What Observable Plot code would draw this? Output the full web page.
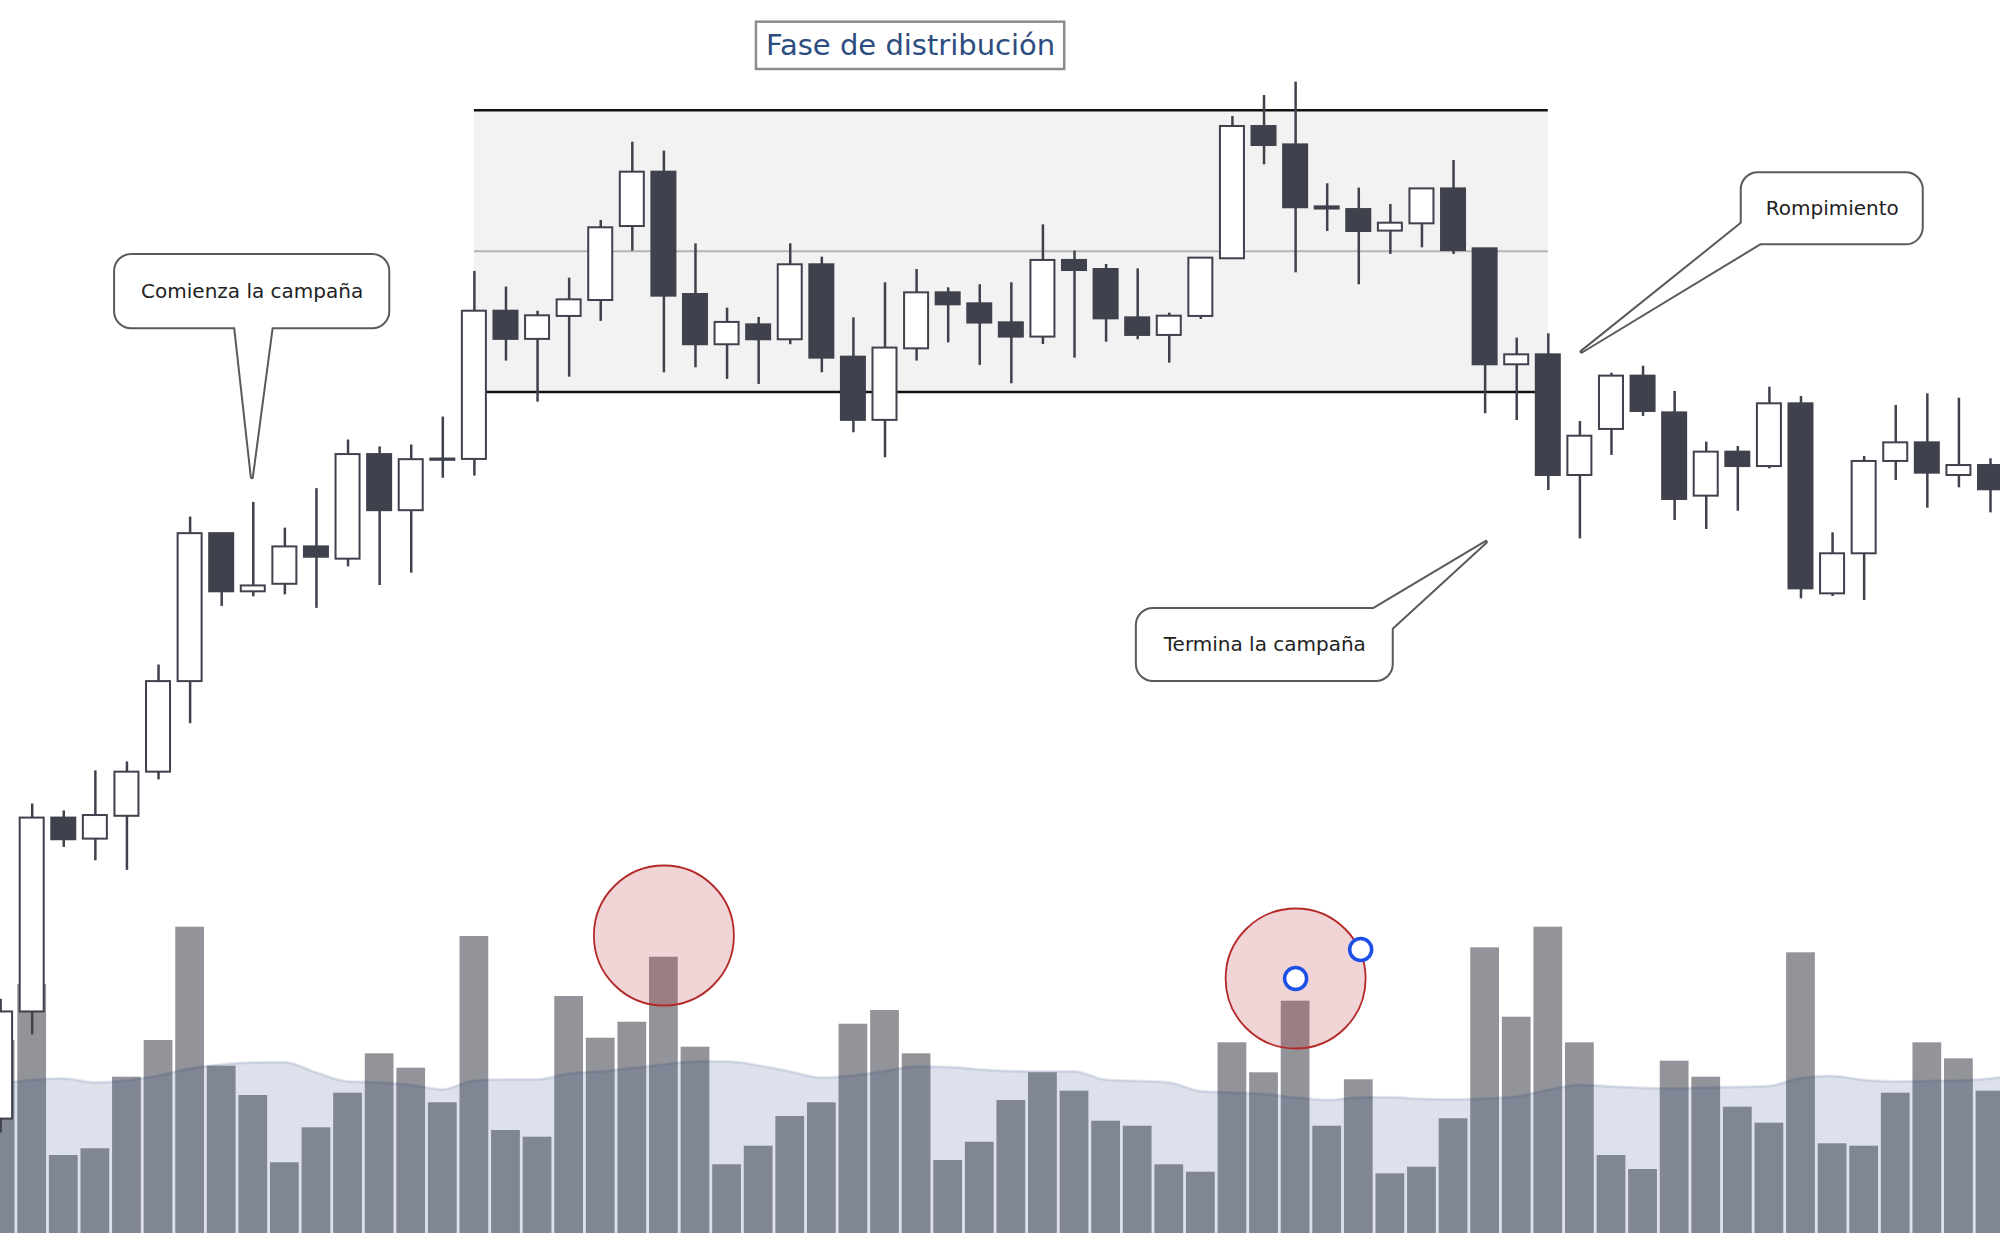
<!DOCTYPE html>
<html>
<head>
<meta charset="utf-8">
<script src="https://cdn.jsdelivr.net/npm/d3@7"></script>
<script src="https://cdn.jsdelivr.net/npm/@observablehq/plot@0.6"></script>
<style>
  html, body { margin: 0; padding: 0; background: #ffffff; }
  #chart { position: relative; width: 2000px; height: 1233px; overflow: hidden; background: #ffffff; }
  #chart > svg { position: absolute; left: 0; top: 0; }
</style>
</head>
<body>
<div id="chart"></div>
<script>
// ---------- data ----------
const opens  = [12.30,20.70,35.90,34.25,36.04,39.50,46.60,58.20,53.64,54.23,57.16,56.20,64.40,60.00,63.95,64.02,75.64,73.43,75.23,76.48,82.28,86.54,76.95,73.01,74.57,73.40,79.28,72.04,67.08,72.69,77.08,76.22,74.73,73.61,79.62,78.91,75.12,73.74,75.23,79.75,90.12,88.68,83.82,83.61,81.92,82.49,85.23,80.53,71.44,72.22,62.76,66.37,70.55,67.67,61.14,64.59,63.46,68.38,53.48,56.62,63.86,65.32,62.76,63.54];
const highs  = [21.70,37.00,36.46,39.60,40.30,47.90,59.50,58.20,60.65,58.63,61.73,65.54,65.00,65.15,67.34,78.76,77.53,75.64,78.23,82.75,88.89,88.19,80.92,75.88,75.15,80.92,79.88,75.12,77.87,78.91,77.47,77.71,77.87,82.41,80.35,79.30,78.96,75.49,79.80,90.91,92.55,93.60,85.63,85.29,84.01,85.23,87.46,80.53,73.53,73.87,66.99,70.78,71.33,69.35,65.37,65.03,69.68,68.95,58.26,64.25,68.25,69.16,68.82,64.07];
const lows   = [11.20,18.90,33.60,32.55,31.80,38.90,43.30,52.50,53.25,53.40,52.34,55.60,54.13,55.10,62.54,62.71,71.73,68.51,70.47,74.84,80.35,70.81,71.20,70.29,69.90,73.01,70.81,66.11,64.15,71.73,73.16,71.39,69.95,73.03,71.96,73.21,73.40,71.57,74.99,79.75,87.12,78.65,81.89,77.71,80.09,80.61,80.09,67.60,67.07,61.58,57.79,64.33,67.39,59.23,58.53,59.96,63.28,53.09,53.27,52.96,62.37,60.20,61.79,59.83];
const closes = [20.70,35.90,34.20,36.10,39.50,46.60,58.20,53.64,54.10,57.16,56.35,64.40,60.00,64.00,64.05,75.64,73.43,75.28,76.53,82.18,86.54,76.82,73.01,74.76,73.40,79.28,71.96,67.08,72.75,77.08,76.14,74.71,73.61,79.62,78.83,75.04,73.74,75.25,79.80,90.12,88.63,83.75,83.65,81.89,82.54,85.23,80.40,71.44,72.22,62.76,65.84,70.55,67.78,60.88,64.59,63.46,68.38,53.87,56.62,63.86,65.32,62.94,63.54,61.64];
const volumes = [1930,2490,780,847,1563,1930,3063,1673,1380,707,1057,1403,1797,1653,1307,2970,1030,963,2370,1953,2113,2763,1863,687,873,1170,1307,2093,2230,1797,730,913,1330,1607,1423,1123,1073,687,613,1907,1607,2323,1073,1537,597,663,1147,2857,2163,3063,1907,780,640,1723,1563,1263,1103,2807,897,873,1403,1907,1747,1423];
// moving average of volume (last value is the next, off-picture bar, read at the right edge)
const volumeAvg = [1500,1535,1550,1510,1530,1580,1650,1690,1710,1713,1610,1520,1510,1485,1440,1530,1540,1540,1600,1620,1655,1690,1720,1720,1680,1620,1557,1580,1625,1670,1665,1640,1623,1620,1620,1537,1525,1510,1423,1410,1395,1360,1335,1360,1363,1345,1340,1350,1370,1435,1485,1470,1455,1450,1460,1465,1475,1555,1575,1535,1520,1525,1530,1550,1600];

// distribution range (candle index span, price bounds)
const rangeIndex = [15, 49];
const rangePrice = [69.3, 91.4];

// highlighted volume spikes (candle index, volume level) and edit handles
const spikeIndex = [21, 41];
const spikeLevel = [2980, 2550];
const handleIndex = [41, 43.06];
const handleLevel = [2550, 2840];

// title box
const titleText = "Fase de distribución";
const titleBoxIndex = [23.93, 33.69];
const titleBoxPrice = [94.59, 98.30];

// callouts
const calloutLabels = ["Comienza la campaña", "Termina la campaña", "Rompimiento"];
const calloutBoxX1 = [3.64, 35.99, 55.14];
const calloutBoxX2 = [12.29, 44.06, 60.84];
const calloutBoxTop = [80.01, 52.25, 86.41];
const calloutBoxBottom = [74.34, 46.69, 80.92];
const calloutBaseA = [[7.44, 74.34], [43.48, 52.25], [55.14, 82.49]];
const calloutBaseB = [[8.60, 74.34], [44.06, 50.74], [55.72, 80.92]];
const calloutTip = [[7.97, 62.58], [47.04, 57.51], [50.07, 72.43]];

// ---------- derived tables ----------
const candles = opens.map((o, i) => ({i, open: o, high: highs[i], low: lows[i], close: closes[i]}));
const upCandles = candles.filter(d => d.close >= d.open);
const downCandles = candles.filter(d => d.close < d.open);
const vol = volumes.map((v, i) => ({i, v}));
const avg = volumeAvg.map((v, i) => ({i, v}));
const spikes = spikeIndex.map((i, k) => ({i, v: spikeLevel[k]}));
const handles = handleIndex.map((i, k) => ({i, v: handleLevel[k]}));
const callouts = calloutLabels.map((label, k) => ({
  label,
  cx: (calloutBoxX1[k] + calloutBoxX2[k]) / 2,
  cy: (calloutBoxTop[k] + calloutBoxBottom[k]) / 2
}));

const W = 2000, H = 1233;
const dark = "#3f414c";
const xOpts = {type: "linear", domain: [0, 63], range: [0.1, 1990], axis: null};
const font = "DejaVu Sans";

// ---------- volume layer ----------
const volumePlot = Plot.plot({
  width: W, height: H, margin: 0,
  x: xOpts,
  y: {domain: [0, 12330], range: [H, 0], axis: null},
  marks: [
    Plot.rect(vol, {x1: d => d.i - 0.455, x2: d => d.i + 0.455, y1: () => 0, y2: "v", fill: "#939499"}),
    Plot.areaY(avg, {x: "i", y1: () => 0, y2: "v", fill: "rgb(30,55,120)", fillOpacity: 0.15, curve: "monotone-x"}),
    Plot.lineY(avg, {x: "i", y: "v", stroke: "rgb(30,55,120)", strokeOpacity: 0.1, strokeWidth: 3, curve: "monotone-x"}),
    Plot.dot(spikes, {x: "i", y: "v", r: 70, fill: "rgb(185,40,45)", fillOpacity: 0.2, stroke: "#b42828", strokeWidth: 1.8}),
    Plot.dot(handles, {x: "i", y: "v", r: 11, fill: "white", stroke: "#1e4fe6", strokeWidth: 3.5})
  ]
});

// ---------- callout shapes (drawn through the plot's scales) ----------
function rr(x1, y1, x2, y2, r) {
  return `M${x1 + r},${y1}H${x2 - r}A${r},${r} 0 0 1 ${x2},${y1 + r}V${y2 - r}A${r},${r} 0 0 1 ${x2 - r},${y2}H${x1 + r}A${r},${r} 0 0 1 ${x1},${y2 - r}V${y1 + r}A${r},${r} 0 0 1 ${x1 + r},${y1}Z`;
}
function calloutShapes(index, scales) {
  const sx = scales.x, sy = scales.y;
  const g = d3.create("svg:g");
  const shapes = calloutLabels.map((_, k) => {
    const x1 = sx(calloutBoxX1[k]), x2 = sx(calloutBoxX2[k]);
    const y1 = sy(calloutBoxTop[k]), y2 = sy(calloutBoxBottom[k]);
    const t = [sx(calloutTip[k][0]), sy(calloutTip[k][1])];
    const ext = (p) => {
      const dx = p[0] - t[0], dy = p[1] - t[1], L = Math.hypot(dx, dy);
      return [p[0] + dx / L * 14, p[1] + dy / L * 14];
    };
    const a = ext([sx(calloutBaseA[k][0]), sy(calloutBaseA[k][1])]);
    const b = ext([sx(calloutBaseB[k][0]), sy(calloutBaseB[k][1])]);
    return {box: rr(x1, y1, x2, y2, 16), tail: `M${a}L${t}L${b}Z`};
  });
  // outline pass (thick stroke), then fill pass to keep only the outer edge of the union
  for (const s of shapes) {
    g.append("path").attr("d", s.box).attr("fill", "white").attr("stroke", "#5a5a5a").attr("stroke-width", 4);
    g.append("path").attr("d", s.tail).attr("fill", "white").attr("stroke", "#5a5a5a").attr("stroke-width", 4).attr("stroke-linejoin", "round");
  }
  for (const s of shapes) {
    g.append("path").attr("d", s.box).attr("fill", "white");
    g.append("path").attr("d", s.tail).attr("fill", "white");
  }
  return g.node();
}

// ---------- price layer ----------
const pricePlot = Plot.plot({
  width: W, height: H, margin: 0,
  style: {background: "transparent"},
  x: xOpts,
  y: {domain: [3.33, 100], range: [H, 0], axis: null},
  marks: [
    Plot.rect([0], {x1: () => rangeIndex[0], x2: () => rangeIndex[1], y1: () => rangePrice[0], y2: () => rangePrice[1], fill: "#f2f2f2"}),
    Plot.ruleY([(rangePrice[0] + rangePrice[1]) / 2], {x1: () => rangeIndex[0], x2: () => rangeIndex[1], stroke: "#b4b4b4", strokeWidth: 2}),
    Plot.ruleY(rangePrice, {x1: () => rangeIndex[0], x2: () => rangeIndex[1], stroke: "#111111", strokeWidth: 2.5}),
    Plot.ruleX(candles, {x: "i", y1: "low", y2: "high", stroke: dark, strokeWidth: 2.5}),
    Plot.rect(upCandles, {x1: d => d.i - 0.38, x2: d => d.i + 0.38, y1: "open", y2: "close", fill: "white", stroke: dark, strokeWidth: 2}),
    Plot.rect(downCandles, {x1: d => d.i - 0.38, x2: d => d.i + 0.38, y1: "open", y2: "close", fill: dark, stroke: dark, strokeWidth: 2}),
    calloutShapes,
    Plot.text(callouts, {x: "cx", y: "cy", text: "label", fontFamily: font, fontSize: 20, fill: "#222222", textAnchor: "middle", lineAnchor: "middle"}),
    Plot.rect([0], {x1: () => titleBoxIndex[0], x2: () => titleBoxIndex[1], y1: () => titleBoxPrice[0], y2: () => titleBoxPrice[1], fill: "white", stroke: "#8c8c8c", strokeWidth: 2.5}),
    Plot.text([titleText], {x: () => (titleBoxIndex[0] + titleBoxIndex[1]) / 2, y: () => (titleBoxPrice[0] + titleBoxPrice[1]) / 2, text: d => d, fontFamily: font, fontSize: 29, fill: "#2d4d80", textAnchor: "middle", lineAnchor: "middle"})
  ]
});

const chart = document.getElementById("chart");
chart.appendChild(volumePlot);
chart.appendChild(pricePlot);
</script>
</body>
</html>
